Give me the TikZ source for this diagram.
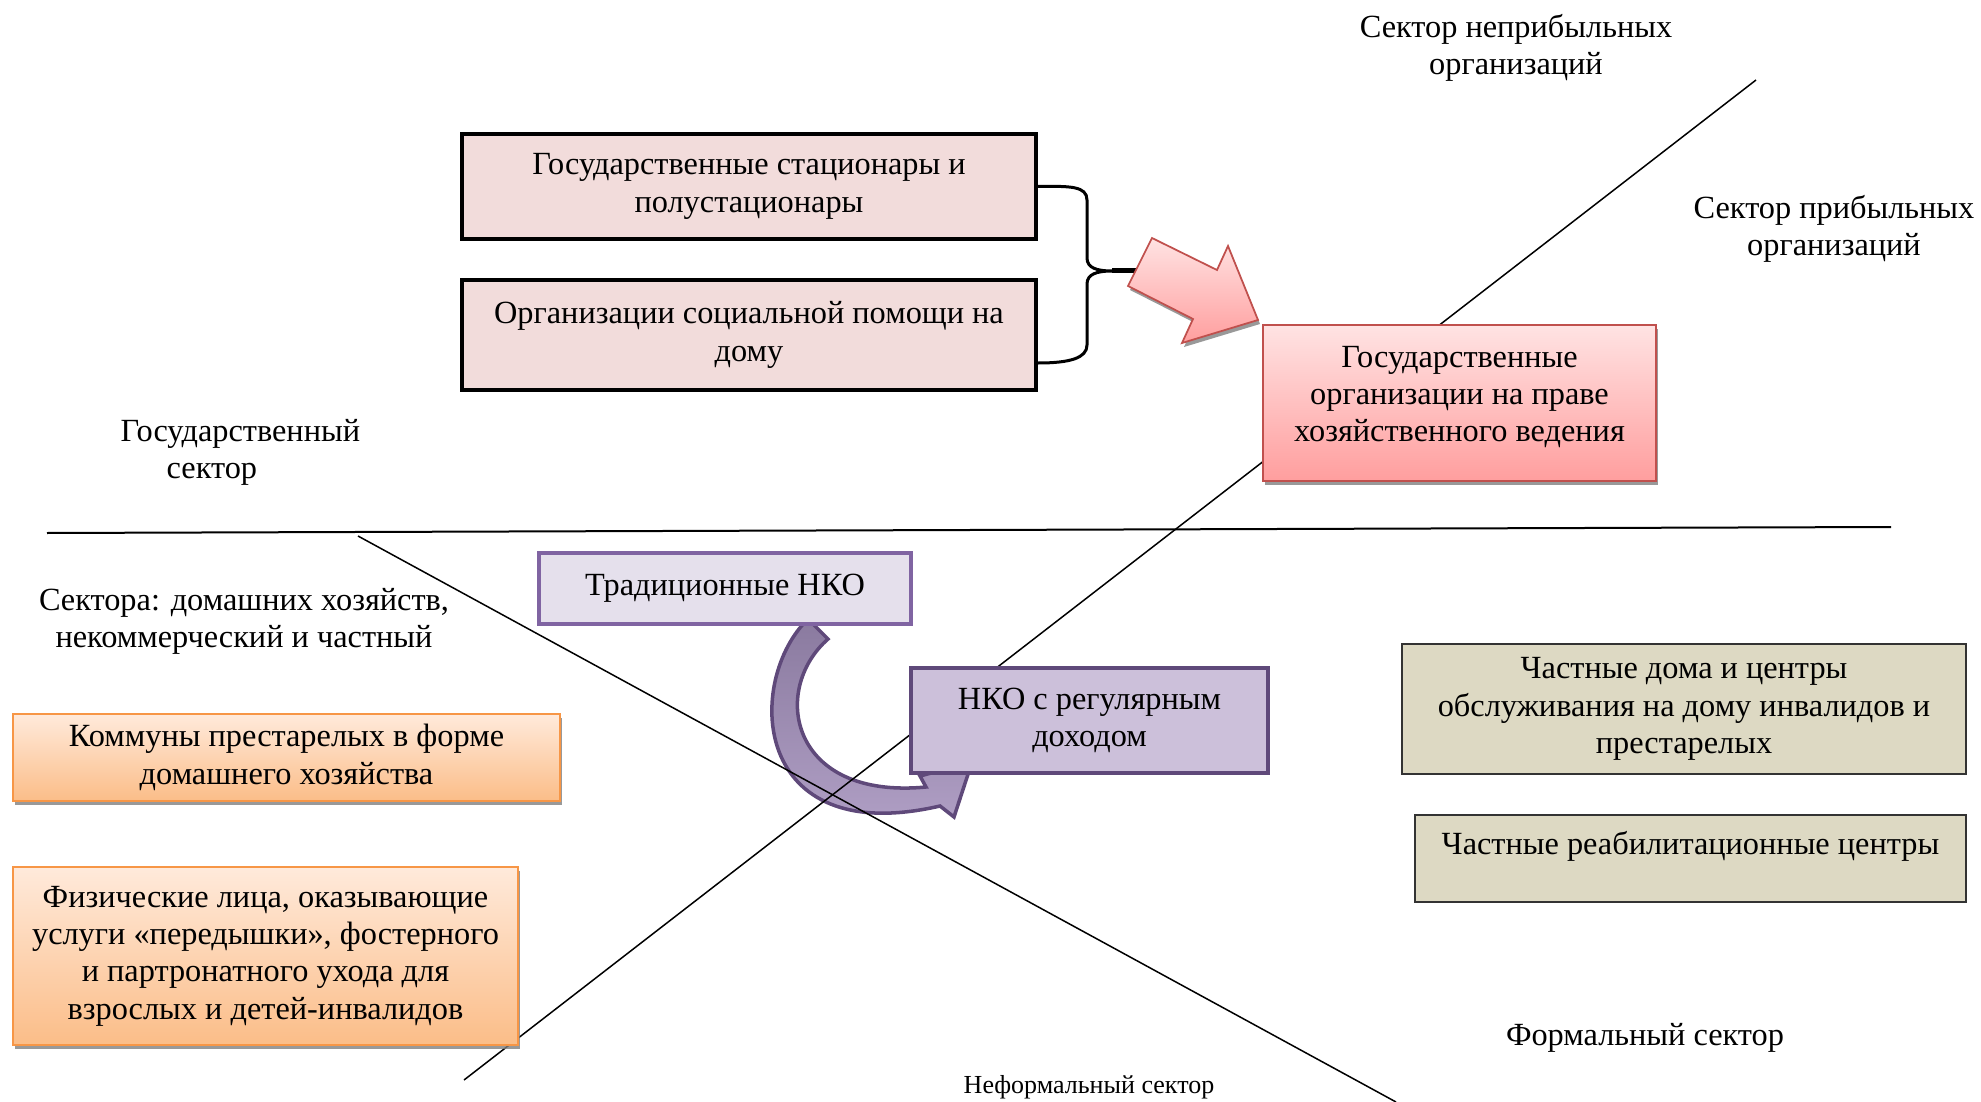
\documentclass[tikz,border=0pt]{standalone}
\usepackage{fontspec}
\setmainfont{Liberation Serif}
\usetikzlibrary{calc,positioning,shadows}

\definecolor{statefill}{HTML}{F2DCDB}
\definecolor{redtop}{HTML}{FFE3E3}
\definecolor{redbot}{HTML}{FF9E9E}
\definecolor{redline}{HTML}{C0504D}
\definecolor{ngolight}{HTML}{E5E0EC}
\definecolor{ngoline}{HTML}{8064A2}
\definecolor{ngofill}{HTML}{CCC0DA}
\definecolor{ngodark}{HTML}{5F497A}
\definecolor{curvetop}{HTML}{8A7A9F}
\definecolor{curvebot}{HTML}{B4A3C9}
\definecolor{orgtop}{HTML}{FFEADB}
\definecolor{orgbot}{HTML}{FBBD88}
\definecolor{orgline}{HTML}{F79646}
\definecolor{tanfill}{HTML}{DDD9C3}

\tikzset{
  txt/.style={align=center,font=\fontsize{9.2}{10.6}\selectfont,inner sep=0pt},
  box/.style={txt,rectangle},
  statebox/.style={box,draw=black,line width=1.2pt,fill=statefill},
  redbox/.style={box,draw=redline,line width=0.5pt,top color=redtop,bottom color=redbot,
    drop shadow={shadow xshift=0.2mm,shadow yshift=-0.35mm,fill=gray,opacity=0.8}},
  ngobox/.style={box,draw=ngoline,line width=1.1pt,fill=ngolight},
  ngodbox/.style={box,draw=ngodark,line width=1.1pt,fill=ngofill},
  orgbox/.style={box,draw=orgline,line width=0.6pt,top color=orgtop,bottom color=orgbot,
    drop shadow={shadow xshift=0.2mm,shadow yshift=-0.35mm,fill=gray,opacity=0.8}},
  tanbox/.style={box,draw=black!80,line width=0.4pt,fill=tanfill},
  divider/.style={line width=0.15mm}
}

\begin{document}
\begin{tikzpicture}[x=0.1mm,y=-0.1mm]
  \useasboundingbox (0,0) rectangle (1981,1102);

  \draw[ngodark,line width=1pt,top color=curvetop,bottom color=curvebot]
    (808,619) .. controls (745,680) and (750,850) .. (940,806) -- (954,817)
    -- (972,762) -- (920,776) -- (926,787)
    .. controls (790,800) and (770,690) .. (828,639) -- cycle;

  \draw[line width=0.2mm] (47,533) -- (1891,527);
  \draw[divider] (464,1080) -- (1756,80);
  \draw[divider] (358,536) -- (1396,1102);

  \node[txt] (nonprofit) at (1516,48) {Сектор неприбыльных\\организаций};
  \node[txt] (profit) at (1834,229) {Сектор прибыльных\\организаций};
  \node[txt,align=left,anchor=west] (statesec) at (120,452) {Государственный\\\hspace*{4.6mm}сектор};
  \node[txt] (mixsec) at (244,621) {Сектора: домашних хозяйств,\\некоммерческий и частный};
  \node[txt] (formal) at (1645,1038) {Формальный сектор};
  \node[txt,font=\fontsize{7.4}{9}\selectfont] (informal) at (1089,1087) {Неформальный сектор};

  \node[statebox,minimum width=57.4mm,minimum height=10.5mm] (gsu) at (749,186.5)
    {Государственные стационары и\\полустационары};
  \node[statebox,minimum width=57.4mm,minimum height=11mm] (soc) at (749,335)
    {Организации социальной помощи на\\дому};

  \draw[line width=0.3mm] (gsu.east) .. controls (1070,186) and (1087,186) .. (1087,200)
    -- (1087,258) .. controls (1087,268) and (1097,271) .. (1112,271) coordinate (bracetip)
    .. controls (1097,271) and (1087,274) .. (1087,284) -- (1087,345)
    .. controls (1087,358) and (1070,363) .. ($(soc.east)+(0,28)$);
  \draw[line width=0.5mm] (bracetip) -- (1140,271);

  \fill[gray!80] (1154,242) -- (1219,274) -- (1230,250) -- (1260,324) -- (1184,347)
    -- (1195,323) -- (1130,290) -- cycle;
  \draw[redline,line width=0.5pt,top color=redtop,bottom color=redbot]
    (1152,238) -- (1217,270) -- (1228,246) -- (1258,320) -- (1182,343)
    -- (1193,319) -- (1128,286) -- cycle;

  \node[redbox,minimum width=39.3mm,minimum height=15.6mm] (unitary) at (1459.5,403)
    {Государственные\\организации на праве\\хозяйственного ведения\\[-1.9mm]\mbox{}};

  \node[ngobox,minimum width=37.2mm,minimum height=7.1mm] (tradngo) at (725,588.5)
    {Традиционные НКО};
  \node[ngodbox,minimum width=35.7mm,minimum height=10.5mm] (incngo) at (1089.5,720.5)
    {НКО с регулярным\\доходом};

  \node[orgbox,minimum width=54.7mm,minimum height=8.7mm] (commune) at (286.5,757.5)
    {Коммуны престарелых в форме\\домашнего хозяйства};
  \node[orgbox,minimum width=50.5mm,minimum height=17.8mm] (persons) at (265.5,956)
    {Физические лица, оказывающие\\услуги «передышки», фостерного\\и партронатного ухода для\\взрослых и детей-инвалидов};

  \node[tanbox,minimum width=56.4mm,minimum height=13mm] (privhome) at (1684,709)
    {Частные дома и центры\\обслуживания на дому инвалидов и\\престарелых};
  \node[tanbox,minimum width=55.1mm,minimum height=8.7mm] (privrehab) at (1690.5,858.5)
    {Частные реабилитационные центры\\[-0.6mm]\mbox{}};
\end{tikzpicture}
\end{document}
